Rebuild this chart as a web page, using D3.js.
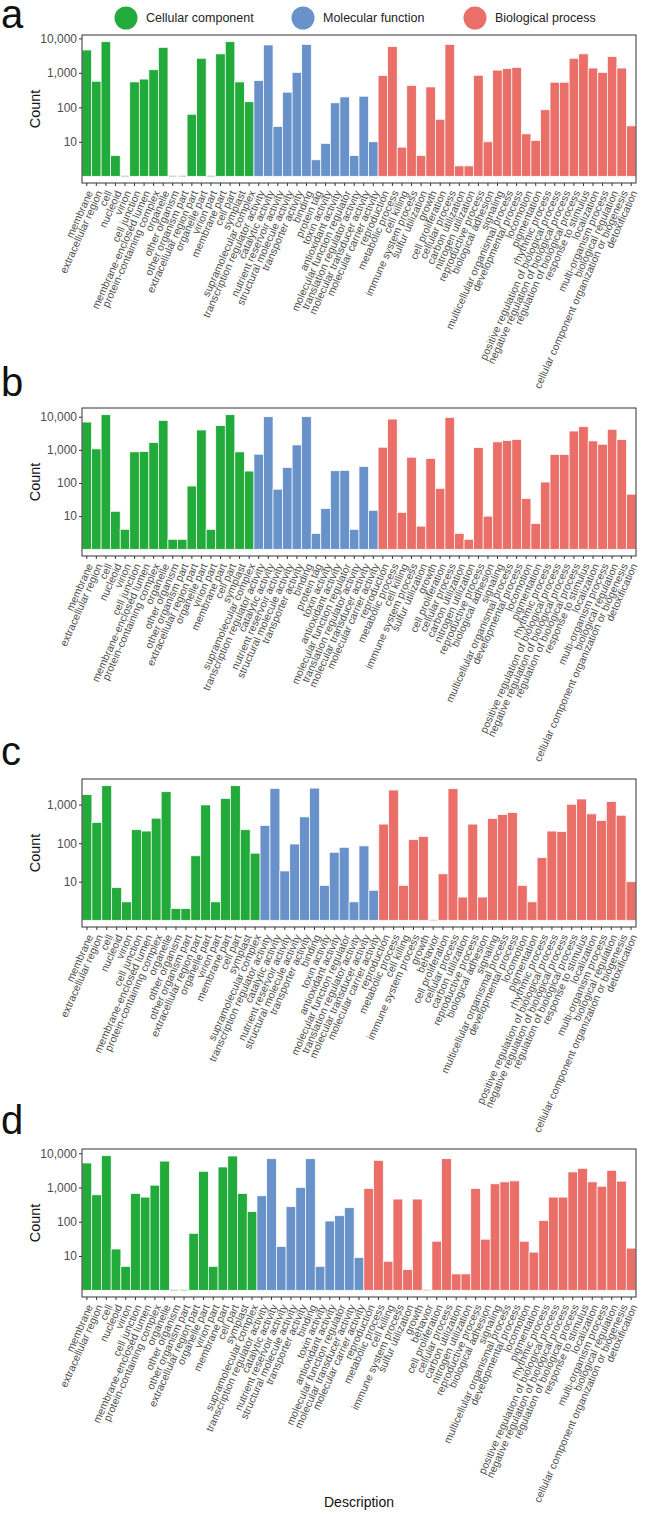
<!DOCTYPE html>
<html><head><meta charset="utf-8">
<script src="https://cdn.jsdelivr.net/npm/d3@7"></script>
<style>body{margin:0;background:#fff}svg{display:block}text{font-family:"Liberation Sans",Arial,sans-serif}</style>
</head><body><svg id="c" width="645" height="1517"></svg>
<script>
// ---- categories ----
const groups = ["Cellular component", "Molecular function", "Biological process"];
const groupColors = ["#22aa3a", "#6892c9", "#eb6f69"];

const ccTerms = ["membrane","extracellular region","cell","nucleoid","virion","cell junction","membrane-enclosed lumen","protein-containing complex","organelle","other organism","other organism part","extracellular region part","organelle part","virion part","membrane part","cell part","symplast","supramolecular complex"];
const mfTermsAB = ["transcription regulator activity","catalytic activity","nutrient reservoir activity","structural molecule activity","transporter activity","binding","protein tag","toxin activity","antioxidant activity","molecular function regulator","translation regulator activity","molecular transducer activity","molecular carrier activity"];
const mfTermsC = ["transcription regulator activity","catalytic activity","nutrient reservoir activity","structural molecule activity","transporter activity","binding","toxin activity","antioxidant activity","molecular function regulator","translation regulator activity","molecular transducer activity","molecular carrier activity"];
const mfTermsD = ["transcription regulator activity","catalytic activity","nutrient reservoir activity","structural molecule activity","transporter activity","binding","toxin activity","antioxidant activity","molecular function regulator","molecular transducer activity","molecular carrier activity"];
const bpTermsAB = ["reproduction","metabolic process","cell killing","immune system process","sulfur utilization","growth","cell proliferation","cellular process","carbon utilization","nitrogen utilization","reproductive process","biological adhesion","signaling","multicellular organismal process","developmental process","locomotion","pigmentation","rhythmic process","positive regulation of biological process","negative regulation of biological process","regulation of biological process","response to stimulus","localization","multi-organism process","biological regulation","cellular component organization or biogenesis","detoxification"];
const bpTermsC = ["reproduction","metabolic process","cell killing","immune system process","growth","behavior","cell proliferation","cellular process","carbon utilization","reproductive process","biological adhesion","signaling","multicellular organismal process","developmental process","locomotion","pigmentation","rhythmic process","positive regulation of biological process","negative regulation of biological process","regulation of biological process","response to stimulus","localization","multi-organism process","biological regulation","cellular component organization or biogenesis","detoxification"];
const bpTermsD = ["reproduction","metabolic process","cell killing","immune system process","sulfur utilization","growth","behavior","cell proliferation","cellular process","carbon utilization","nitrogen utilization","reproductive process","biological adhesion","signaling","multicellular organismal process","developmental process","locomotion","pigmentation","rhythmic process","positive regulation of biological process","negative regulation of biological process","regulation of biological process","response to stimulus","localization","multi-organism process","biological regulation","cellular component organization or biogenesis","detoxification"];

// ---- counts (1 = empty bar) ----
const ccA = [4600,570,8000,4,1,545,660,1230,5500,1,1,63,2650,1,3550,8000,545,145];
const mfA = [595,6440,28,275,1030,6700,3,9,135,200,4,210,10];
const bpA = [830,5760,7,430,4,390,45,6700,2,2,850,10,1200,1340,1440,17,11,85,535,535,2650,3550,1380,1030,2970,1380,29];

const ccB = [6900,1070,11500,14,4,870,890,1660,7760,2,2,81,3980,4,5370,11500,870,229];
const mfB = [740,10000,65,295,1410,10000,3,17,234,240,4,316,15];
const bpB = [1200,8500,13,600,5,550,69,9500,3,2,1170,10,1740,1900,2040,34,6,107,725,725,3700,5000,1860,1480,4170,2040,46];

const ccC = [1810,345,3090,7,3,223,206,444,2160,2,2,47,980,3,1450,3090,223,55];
const mfC = [288,2630,19,95,480,2680,8,58,78,3,85,6];
const bpC = [312,2390,8,123,150,1,16,2580,4,312,4,436,553,622,8,3,42,206,200,1020,1400,575,387,1200,530,10];

const ccD = [5190,612,8470,16,5,670,525,1170,5900,1,1,46,2970,5,3970,8300,670,197];
const mfD = [573,6920,19,275,1000,6920,5,105,150,257,9];
const bpD = [935,6200,7,460,4,460,1,27,6920,3,3,935,31,1280,1460,1560,27,13,108,525,525,2850,3630,1460,1090,3180,1530,17];

const yTickValues = [10, 100, 1000, 10000];
const panelLetters = ["a","b","c","d"];

const panels = [
  {cc: ccA, mf: mfA, bp: bpA, mfT: mfTermsAB, bpT: bpTermsAB},
  {cc: ccB, mf: mfB, bp: bpB, mfT: mfTermsAB, bpT: bpTermsAB},
  {cc: ccC, mf: mfC, bp: bpC, mfT: mfTermsC, bpT: bpTermsC},
  {cc: ccD, mf: mfD, bp: bpD, mfT: mfTermsD, bpT: bpTermsD}
];

const svg = d3.select("#c");
const left = 82, right = 636, frameH = 148;
const frameTops = [35, 408, 779, 1149];
const letterBase = [28, 396, 765, 1134];
const fmt = d3.format(",");
const FONT = '"Liberation Sans",Arial,sans-serif';

panels.forEach((p, i) => {
  const top = frameTops[i], bottom = top + frameH;
  const rows = [];
  ccTerms.forEach((t, k) => rows.push({term: t, v: p.cc[k], g: 0}));
  p.mfT.forEach((t, k) => rows.push({term: t, v: p.mf[k], g: 1}));
  p.bpT.forEach((t, k) => rows.push({term: t, v: p.bp[k], g: 2}));
  const x = d3.scaleBand().domain(rows.map((r, k) => k)).range([left, right]).padding(0);
  const L = Math.log10(d3.max(rows, r => r.v));
  const y = d3.scaleLog().domain([Math.pow(10, -0.05 * L), Math.pow(10, 1.05 * L)]).range([bottom, top]);
  const g = svg.append("g");

  g.selectAll("rect.bar").data(rows).join("rect").attr("class", "bar")
    .attr("x", (r, k) => x(k)).attr("width", x.bandwidth())
    .attr("y", r => y(r.v)).attr("height", r => y(1) - y(r.v))
    .attr("fill", r => groupColors[r.g]).attr("stroke", "#fff").attr("stroke-width", 0.7);
  g.selectAll("line.zero").data(rows.map((r, k) => ({...r, k})).filter(r => r.v <= 1)).join("line")
    .attr("class", "zero")
    .attr("x1", r => x(r.k) + 1).attr("x2", r => x(r.k) + x.bandwidth() - 1)
    .attr("y1", y(1)).attr("y2", y(1))
    .attr("stroke", r => groupColors[r.g]).attr("stroke-opacity", 0.3).attr("stroke-width", 1.5);

  g.append("rect").attr("x", left).attr("y", top).attr("width", right - left).attr("height", frameH)
    .attr("fill", "none").attr("stroke", "#333").attr("stroke-width", 1);

  const ya = g.append("g").attr("transform", `translate(${left},0)`)
    .call(d3.axisLeft(y).tickValues(yTickValues.filter(v => v <= y.domain()[1])).tickFormat(fmt).tickSize(3).tickPadding(2));
  ya.select(".domain").remove();
  ya.selectAll("line").attr("stroke", "#333");
  ya.selectAll("text").attr("font-size", 12).attr("fill", "#4d4d4d").style("font-family", FONT);

  const xa = g.append("g").attr("transform", `translate(0,${bottom})`)
    .call(d3.axisBottom(x).tickFormat(k => rows[k].term).tickSize(3).tickPadding(2));
  xa.select(".domain").remove();
  xa.selectAll("line").attr("stroke", "#333");
  xa.selectAll("text")
    .attr("y", 0).attr("x", 0).attr("dy", "0.35em")
    .attr("transform", "translate(3,8) rotate(-66)")
    .style("text-anchor", "end")
    .attr("font-size", 10.6).attr("fill", "#4d4d4d").style("font-family", FONT);

  svg.append("text").attr("transform", `translate(40,${(top + bottom) / 2}) rotate(-90)`)
    .attr("text-anchor", "middle").attr("font-size", 14.5).attr("fill", "#111").text("Count");

  svg.append("text").attr("x", 1).attr("y", letterBase[i]).attr("font-size", 40).attr("fill", "#111").text(panelLetters[i]);
});

const legX = [126, 303, 475];
groups.forEach((name, k) => {
  svg.append("circle").attr("cx", legX[k]).attr("cy", 18).attr("r", 11.5).attr("fill", groupColors[k]);
  svg.append("text").attr("x", legX[k] + 20).attr("y", 18).attr("dy", "0.35em")
    .attr("font-size", 12.5).attr("fill", "#222").text(name);
});

svg.append("text").attr("x", (left + right) / 2).attr("y", 1507).attr("text-anchor", "middle")
  .attr("font-size", 14).attr("fill", "#111").text("Description");
</script></body></html>
